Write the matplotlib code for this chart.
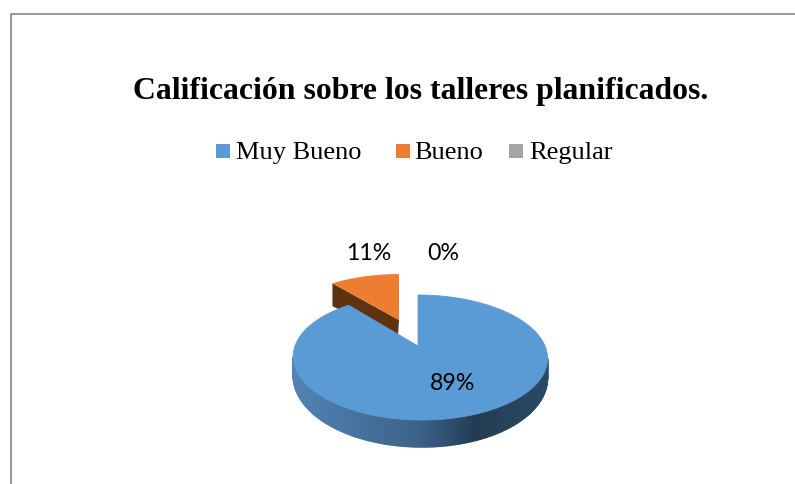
#!/usr/bin/env python3
# -*- coding: utf-8 -*-

import numpy as np
import matplotlib
matplotlib.use("Agg")
import matplotlib.pyplot as plt
from matplotlib.colors import LinearSegmentedColormap
from matplotlib.patches import Polygon, Rectangle
from matplotlib.collections import PolyCollection

TITLE = "Calificación sobre los talleres planificados."
categories = ["Muy Bueno", "Bueno", "Regular"]
values = [89, 11, 0]
shown_pct = ["89%", "11%", "0%"]
colors = ["#5b9bd5", "#ed7d31", "#a5a5a5"]

# cumulative share -> angle measured clockwise from the top of the disc
# the 3D disc is mapped to pixels with a small perspective
P = 0.184
RX = 125.0
RY = 60.4


def project(theta, ax0, ay0, sx=1.0, sy=1.0):
    u, v = np.sin(theta), np.cos(theta)
    w = 1 + P * v
    x = ax0 + sx * (RX * u / w + 2 * (1 - v))
    y = ay0 - sy * RY * v / w
    return x, y


def slice_angles(vals):
    total = float(sum(vals))
    edges = np.cumsum([0] + list(vals)) / total * 2 * np.pi
    return list(zip(edges[:-1], edges[1:]))


fig = plt.figure(figsize=(7.95, 4.84), dpi=100)
ax = fig.add_axes([0, 0, 1, 1])
ax.set_xlim(0, 795)
ax.set_ylim(484, 0)
ax.axis("off")

# chart frame, only top and left are in the crop
ax.plot([10.5, 10.5, 795], [484, 13.5, 13.5], color="#868686", lw=1.2)

ax.text(420.5, 91, TITLE, ha="center", va="center", family="Liberation Serif",
        fontweight="bold", fontsize=22.85, color="black")

# legend
legend_sq = [216, 396, 509]
legend_tx = [236.5, 414, 529]
for name, col, sx, tx in zip(categories, colors, legend_sq, legend_tx):
    ax.add_patch(Rectangle((sx, 144), 14, 14, facecolor=col, edgecolor="none"))
    ax.text(tx, 153, name, ha="left", va="center", family="Liberation Serif",
            fontsize=19, color="black")

angles = slice_angles(values)

# orange slice, pulled out up and left
a0, a1 = angles[1]
t = np.linspace(a0, a1, 40)
ox, oy = project(t, 399, 320, 0.96, 0.9)
ax.add_patch(Polygon([(ox[0], oy[0]), (ox[0], oy[0] + 23), (398, 335), (399, 320)],
                     facecolor="#5f3210", edgecolor="none", zorder=2))
ax.add_patch(Polygon(np.r_[[(399, 320)], np.c_[ox, oy]], facecolor=colors[1],
                     edgecolor="none", zorder=3))

# blue slice: side wall first, with the horizontal shading, then the top
a0, a1 = angles[0]
t = np.linspace(a0, a1, 361)
bx, by = project(t, 418, 346)
depth = 17 + 10 * np.clip(-np.cos(t), 0, 1)
pos = (bx - bx.min()) / (bx.max() - bx.min())
front = np.where(np.cos(t[:-1]) < -P)[0]
quads = [[(bx[i], by[i]), (bx[i + 1], by[i + 1]),
          (bx[i + 1], by[i + 1] + depth[i + 1]), (bx[i], by[i] + depth[i])]
         for i in front]
shade = LinearSegmentedColormap.from_list(
    "side", [(0, "#5283b2"), (0.5, "#3c6289"), (0.72, "#233c52"), (1, "#2b4a66")])
side = PolyCollection(quads, facecolors=shade(pos[front]), edgecolors=shade(pos[front]),
                      linewidths=1.0, zorder=4)
ax.add_collection(side)
ax.add_patch(Polygon(np.r_[[(418, 346)], np.c_[bx, by]], facecolor=colors[0],
                     edgecolor=colors[0], linewidth=0.6, zorder=5))

# data labels
label_xy = [(453, 384), (369, 253), (443.5, 254)]
for lab, (lx, ly) in zip(shown_pct, label_xy):
    ax.text(lx, ly, lab, ha="center", va="center", family="Lato", fontsize=16.7,
            color="black", zorder=6)

fig.savefig("out.png", dpi=100)
plt.close(fig)
